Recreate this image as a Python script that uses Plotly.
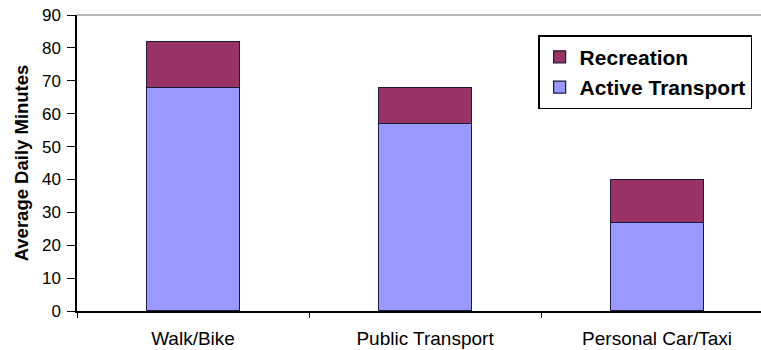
import plotly.graph_objects as go

categories = ["Walk/Bike", "Public Transport", "Personal Car/Taxi"]
active_transport = [68, 57, 27]
recreation = [14, 11, 13]
y_ticks = [0, 10, 20, 30, 40, 50, 60, 70, 80, 90]

fig = go.Figure()
fig.add_trace(go.Bar(
    x=categories, y=active_transport, name="Active Transport",
    legendrank=2,
    marker=dict(color="#9999FF", line=dict(color="#1a1a3a", width=1.2)),
    width=0.4,
))
fig.add_trace(go.Bar(
    x=categories, y=recreation, name="Recreation",
    legendrank=1,
    marker=dict(color="#993366", line=dict(color="#1a1a3a", width=1.2)),
    width=0.4,
))

fig.update_layout(
    barmode="stack",
    width=761, height=350,
    margin=dict(l=77, r=0, t=15, b=39),
    paper_bgcolor="white", plot_bgcolor="white",
    font=dict(family="Arial, Liberation Sans, sans-serif", color="black", size=14),
    showlegend=True,
    legend=dict(
        x=0.987, y=0.932, xanchor="right", yanchor="top",
        traceorder="normal",
        bordercolor="black", borderwidth=1.5, bgcolor="white",
        font=dict(size=21, family="Arial, Liberation Sans, sans-serif", color="black", weight="bold"),
        itemwidth=30,
    ),
    xaxis=dict(
        range=[-0.5, 2.448],
        showline=True, linecolor="black", linewidth=1.5,
        ticks="outside", tickson="boundaries", ticklen=5, tickcolor="black",
        ticklabelstandoff=9,
        tickfont=dict(size=19),
        showgrid=False, zeroline=False,
    ),
    yaxis=dict(
        range=[0, 90], tickvals=y_ticks,
        showline=True, linecolor="black", linewidth=1.5,
        ticks="outside", ticklen=8, tickcolor="black",
        ticklabelstandoff=3,
        tickfont=dict(size=17),
        showgrid=False, zeroline=False,
        title=dict(text="<b>Average Daily Minutes</b>", font=dict(size=18.5), standoff=8),
    ),
    shapes=[dict(type="line", xref="paper", yref="paper", x0=0, x1=1, y0=1, y1=1,
                 line=dict(color="#a0a0a0", width=1.5))],
)

fig.write_html("out.html")
